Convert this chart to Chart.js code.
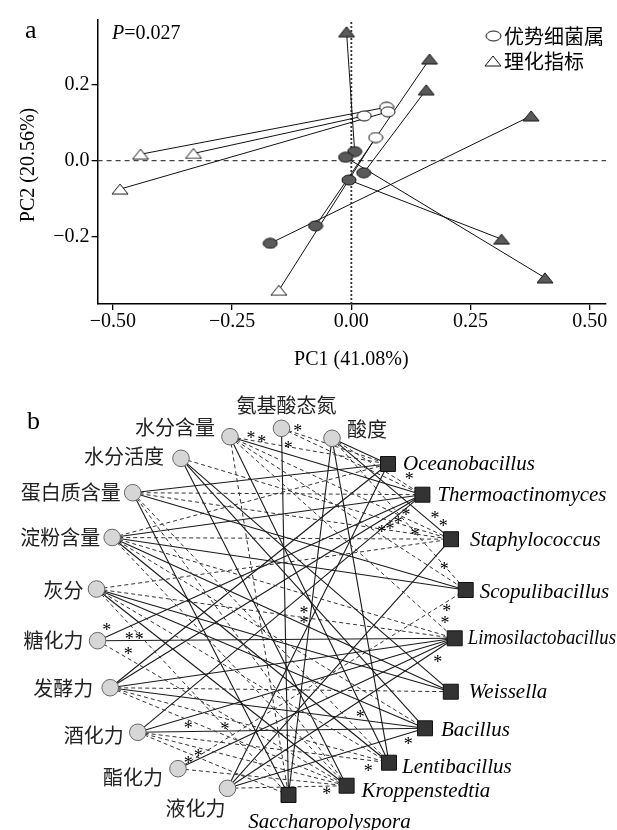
<!DOCTYPE html>
<html>
<head>
<meta charset="utf-8">
<script src="https://cdn.jsdelivr.net/npm/chart.js@4.4.1/dist/chart.umd.min.js"></script>
<style>
  html, body { margin: 0; padding: 0; background: #fff; }
  #wrap { position: relative; width: 617px; height: 830px; }
  #pcoaChart { position: absolute; left: 0; top: 0; }
  #networkChart { position: absolute; left: 0; top: 380px; }
</style>
</head>
<body>
<div id="wrap">
  <canvas id="pcoaChart" width="617" height="380"></canvas>
  <canvas id="networkChart" width="617" height="450"></canvas>
</div>
<script>
// ---- panel a : procrustes ----
const pc1Ticks = [-0.5, -0.25, 0, 0.25, 0.5];
const pc2Ticks = [-0.2, 0, 0.2];
const pc1Title = 'PC1 (41.08%)';
const pc2Title = 'PC2 (20.56%)';
const pValue = '=0.027';
const legendNames = ['优势细菌属', '理化指标'];

// circles = dominant genera, triangles = physicochemical indexes
const genusPC1 = [0.074, 0.077, 0.027, 0.051, 0.007, -0.012, 0.026, -0.005, -0.075, -0.170];
const genusPC2 = [0.141, 0.129, 0.118, 0.061, 0.024, 0.009, -0.032, -0.051, -0.172, -0.218];
const genusOpen = [true, true, true, true, false, false, false, false, false, false];
const indexPC1 = [-0.010, 0.164, 0.157, 0.377, 0.315, 0.406, -0.442, -0.331, -0.485, -0.152];
const indexPC2 = [0.340, 0.268, 0.187, 0.118, -0.207, -0.309, 0.017, 0.019, -0.075, -0.342];
const indexOpen = [false, false, false, false, false, false, true, true, true, true];
const pairedGenus = [4, 8, 6, 9, 7, 5, 0, 2, 1, 3];

// ---- panel b : correlation network ----
const physNames = ['水分含量', '氨基酸态氮', '酸度', '水分活度', '蛋白质含量', '淀粉含量',
                   '灰分', '糖化力', '发酵力', '酒化力', '酯化力', '液化力'];
const physX = [230, 281.5, 332, 181, 132.7, 112.2, 96.5, 97.6, 110.2, 137.8, 178, 227.5];
const physY = [436.7, 428.3, 438.3, 458.3, 492.7, 537.5, 589, 640.7, 687.7, 732.3, 768.7, 788.3];
const genusNames = ['Oceanobacillus', 'Thermoactinomyces', 'Staphylococcus', 'Scopulibacillus',
                    'Limosilactobacillus', 'Weissella', 'Bacillus', 'Lentibacillus',
                    'Kroppenstedtia', 'Saccharopolyspora'];
const genusX = [388, 422.4, 451, 465.7, 454.7, 450.8, 425, 389, 346.6, 288.5];
const genusY = [464, 494.7, 539.2, 590, 638.3, 691.7, 728.3, 762.7, 785.7, 795];
// [index, genus, sign]  sign 1 = solid, -1 = dashed
const links = [
  [0, 0, -1], [0, 1, 1], [0, 2, -1], [0, 3, -1], [0, 4, -1], [0, 7, 1], [0, 9, -1],
  [1, 0, -1], [1, 1, -1], [1, 9, 1],
  [2, 0, 1], [2, 1, -1], [2, 2, 1], [2, 3, -1], [2, 7, 1], [2, 9, 1],
  [3, 2, -1], [3, 5, 1], [3, 6, 1], [3, 8, 1],
  [4, 0, 1], [4, 1, -1], [4, 2, -1], [4, 3, 1], [4, 7, -1], [4, 9, 1], [4, 8, -1],
  [5, 0, -1], [5, 1, 1], [5, 2, -1], [5, 3, 1], [5, 4, -1], [5, 5, 1], [5, 6, -1], [5, 7, 1], [5, 8, -1],
  [6, 2, -1], [6, 4, -1], [6, 5, 1], [6, 6, 1], [6, 8, 1], [6, 9, -1], [6, 7, -1],
  [7, 1, 1], [7, 4, 1], [7, 8, -1],
  [8, 0, 1], [8, 1, 1], [8, 4, 1], [8, 5, -1], [8, 6, 1], [8, 7, -1], [8, 8, -1],
  [9, 1, 1], [9, 4, 1], [9, 6, 1], [9, 7, -1], [9, 8, -1], [9, 9, -1],
  [10, 3, -1], [10, 4, 1], [10, 8, -1],
  [11, 0, 1], [11, 2, 1], [11, 4, 1], [11, 6, 1], [11, 8, -1]
];
const starX = [251, 261.7, 297.7, 288.3, 409.3, 435, 443.3, 381.7, 390, 398.3, 406, 415,
               444.3, 446.7, 445, 437.7, 304, 304, 106.7, 129.3, 139.3, 128.3,
               360.2, 188.3, 225, 408.3, 188.3, 198.3, 368.3, 326.7];
const starY = [435, 439.3, 428.3, 445, 476.7, 515, 523.3, 529, 526.7, 520.7, 512.3, 532.7,
               566.7, 608.3, 620, 659.3, 610, 620, 627.7, 636.7, 636.7, 651.7,
               714, 725, 726, 741.7, 760, 753.3, 768.3, 791.7];

const SERIF = "'Liberation Serif', 'Times New Roman', serif";
const CJK = "'Noto Sans CJK SC', sans-serif";

function makeMarker(shape, fill, w, h) {
  const c = document.createElement('canvas');
  c.width = w; c.height = h;
  const g = c.getContext('2d');
  g.beginPath();
  if (shape === 'tri') {
    g.moveTo(w / 2, 1); g.lineTo(w - 1, h - 1); g.lineTo(1, h - 1); g.closePath();
  } else {
    g.ellipse(w / 2, h / 2, w / 2 - 1, h / 2 - 1, 0, 0, Math.PI * 2);
  }
  g.fillStyle = fill; g.fill();
  g.lineWidth = 1; g.strokeStyle = '#111'; g.stroke();
  return c;
}

const circleOpen = makeMarker('ell', '#fff', 16, 12);
const circleFull = makeMarker('ell', '#5a5a5a', 16, 12);
const triOpen = makeMarker('tri', '#fff', 18, 12);
const triFull = makeMarker('tri', '#5a5a5a', 18, 12);

const fmt = (v, d) => (v < 0 ? '\u2212' : '') + Math.abs(v).toFixed(d);

function pickPoints(xs, ys, flags, want) {
  const out = [];
  xs.forEach((x, i) => { if (flags[i] === want) out.push({ x: x, y: ys[i] }); });
  return out;
}

const xMin = -0.532, xMax = 0.534, yMin = -0.378, yMax = 0.371;

const pcoaSets = [
  { data: pickPoints(indexPC1, indexPC2, indexOpen, false), pointStyle: triFull, pointRadius: 6, showLine: false },
  { data: pickPoints(indexPC1, indexPC2, indexOpen, true), pointStyle: triOpen, pointRadius: 6, showLine: false },
  { data: pickPoints(genusPC1, genusPC2, genusOpen, false), pointStyle: circleFull, pointRadius: 6, showLine: false },
  { data: pickPoints(genusPC1, genusPC2, genusOpen, true), pointStyle: circleOpen, pointRadius: 6, showLine: false }
];
indexPC1.forEach((x, i) => {
  const g = pairedGenus[i];
  pcoaSets.push({
    data: [{ x: x, y: indexPC2[i] }, { x: genusPC1[g], y: genusPC2[g] }],
    showLine: true, borderColor: '#111', borderWidth: 1, pointRadius: 0
  });
});
pcoaSets.push({
  data: [{ x: xMin, y: 0 }, { x: xMax, y: 0 }],
  showLine: true, borderColor: '#444', borderWidth: 1.2, borderDash: [5, 4], pointRadius: 0
});
pcoaSets.push({
  data: [{ x: 0, y: yMin }, { x: 0, y: yMax }],
  showLine: true, borderColor: '#333', borderWidth: 1.8, borderDash: [2, 2], pointRadius: 0
});

const panelAText = {
  id: 'panelAText',
  afterDraw(chart) {
    const c = chart.ctx;
    c.save();
    c.fillStyle = '#000';
    c.textBaseline = 'middle';
    c.textAlign = 'left';
    c.font = '26px ' + SERIF;
    c.fillText('a', 25, 31);
    c.font = 'italic 20px ' + SERIF;
    c.fillText('P', 112, 34);
    const w = c.measureText('P').width;
    c.font = '20px ' + SERIF;
    c.fillText(pValue, 112 + w, 34);

    // legend
    c.drawImage(circleOpen, 485, 30, 17, 12);
    c.drawImage(triOpen, 484, 55, 18, 12);
    c.font = '20px ' + CJK;
    c.fillText(legendNames[0], 504, 36);
    c.fillText(legendNames[1], 504, 61);

    // axis titles
    c.font = '20px ' + SERIF;
    c.textAlign = 'center';
    c.fillText(pc1Title, chart.scales.x.getPixelForValue(0), 360);
    c.translate(29, 165);
    c.rotate(-Math.PI / 2);
    c.fillText(pc2Title, 0, 0);
    c.restore();
  }
};

new Chart(document.getElementById('pcoaChart'), {
  type: 'scatter',
  data: { datasets: pcoaSets },
  options: {
    responsive: false,
    animation: false,
    events: [],
    layout: { autoPadding: false, padding: { top: 20, right: 11, left: 0, bottom: 0 } },
    plugins: { legend: { display: false }, tooltip: { enabled: false } },
    scales: {
      x: {
        type: 'linear', min: xMin, max: xMax,
        afterBuildTicks: s => { s.ticks = pc1Ticks.map(v => ({ value: v })); },
        afterFit: s => { s.height = 76; },
        grid: { drawOnChartArea: false, drawTicks: true, tickLength: 6, color: '#000', lineWidth: 1.3 },
        border: { display: true, color: '#000', width: 1.5 },
        ticks: { color: '#000', font: { family: SERIF, size: 20 }, padding: 0, maxRotation: 0, autoSkip: false,
                 callback: v => fmt(v, 2) }
      },
      y: {
        type: 'linear', min: yMin, max: yMax,
        afterBuildTicks: s => { s.ticks = pc2Ticks.map(v => ({ value: v })); },
        afterFit: s => { s.width = 97.6; },
        grid: { drawOnChartArea: false, drawTicks: true, tickLength: 6, color: '#000', lineWidth: 1.3 },
        border: { display: true, color: '#000', width: 1.5 },
        ticks: { color: '#000', font: { family: SERIF, size: 20 }, padding: 2, autoSkip: false,
                 callback: v => fmt(v, 1) }
      }
    }
  },
  plugins: [panelAText]
});

// ---- network chart ----
const physLabelPos = [
  [-15, -9, 'right'], [5, -23, 'center'], [15, -9, 'left'], [-17, -2, 'right'],
  [-12, 0, 'right'], [-12, 0, 'right'], [-13, 1, 'right'], [-14, 0, 'right'],
  [-17, 1, 'right'], [-14, 3, 'right'], [-15, 9, 'right'], [-2, 20, 'right']
];
const genusLabelPos = [
  [15, 0, 'left'], [15, 1, 'left'], [19, 1, 'left'], [14, 2, 'left'], [13, 0, 'left'],
  [18, 1, 'left'], [16, 2, 'left'], [13, 5, 'left'], [15, 6, 'left'], [41, 27, 'center']
];

const netSets = [
  { data: genusX.map((x, i) => ({ x: x, y: genusY[i] })), pointStyle: 'rect', pointRadius: 10.6,
    backgroundColor: '#333', borderColor: '#111', borderWidth: 1, showLine: false },
  { data: physX.map((x, i) => ({ x: x, y: physY[i] })), pointStyle: 'circle', pointRadius: 8.3,
    backgroundColor: '#d6d6d6', borderColor: '#666', borderWidth: 1, showLine: false }
];
links.forEach(([p, g, sign]) => {
  netSets.push({
    data: [{ x: physX[p], y: physY[p] }, { x: genusX[g], y: genusY[g] }],
    showLine: true, pointRadius: 0,
    borderColor: sign > 0 ? '#1a1a1a' : '#333',
    borderWidth: sign > 0 ? 1.1 : 1,
    borderDash: sign > 0 ? [] : [4, 3]
  });
});

const panelBText = {
  id: 'panelBText',
  afterDatasetsDraw(chart) {
    const c = chart.ctx, sx = chart.scales.x, sy = chart.scales.y;
    c.save();
    c.fillStyle = '#000';
    c.textBaseline = 'middle';
    c.textAlign = 'left';
    c.font = '26px ' + SERIF;
    c.fillText('b', 27, sy.getPixelForValue(422));

    c.fillStyle = '#222';
    c.font = '20px ' + CJK;
    physNames.forEach((name, i) => {
      const [dx, dy, al] = physLabelPos[i];
      c.textAlign = al;
      c.fillText(name, sx.getPixelForValue(physX[i]) + dx, sy.getPixelForValue(physY[i]) + dy);
    });
    c.fillStyle = '#000';
    c.font = 'italic 21px ' + SERIF;
    genusNames.forEach((name, i) => {
      const [dx, dy, al] = genusLabelPos[i];
      const px = sx.getPixelForValue(genusX[i]) + dx;
      c.textAlign = al;
      if (al === 'left') {
        c.fillText(name, px, sy.getPixelForValue(genusY[i]) + dy, chart.width - 1 - px);
      } else {
        c.fillText(name, px, sy.getPixelForValue(genusY[i]) + dy);
      }
    });
    c.font = '18px ' + SERIF;
    c.textAlign = 'center';
    starX.forEach((x, i) => {
      c.fillText('*', sx.getPixelForValue(x), sy.getPixelForValue(starY[i]) + 4);
    });
    c.restore();
  }
};

new Chart(document.getElementById('networkChart'), {
  type: 'scatter',
  data: { datasets: netSets },
  options: {
    responsive: false,
    animation: false,
    events: [],
    layout: { autoPadding: false, padding: 0 },
    plugins: { legend: { display: false }, tooltip: { enabled: false } },
    scales: {
      x: { type: 'linear', display: false, min: 0, max: 617 },
      y: { type: 'linear', display: false, min: 380, max: 830, reverse: true }
    }
  },
  plugins: [panelBText]
});
</script>
</body>
</html>
